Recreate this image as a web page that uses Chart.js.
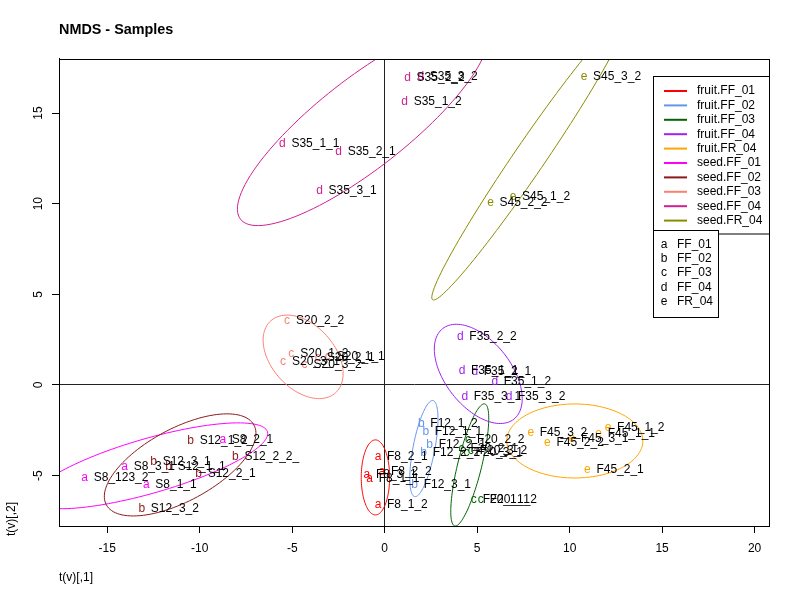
<!DOCTYPE html>
<html>
<head>
<meta charset="utf-8">
<title>NMDS - Samples</title>
<script src="https://cdn.jsdelivr.net/npm/chart.js@4.4.1/dist/chart.umd.min.js"></script>
<style>
  html, body { margin: 0; padding: 0; background: #fff; }
  canvas { display: block; }
</style>
</head>
<body>
<canvas id="grafico" width="800" height="600"></canvas>
<script>
const groups = ['fruit.FF_01', 'fruit.FF_02', 'fruit.FF_03', 'fruit.FF_04', 'fruit.FR_04',
                'seed.FF_01', 'seed.FF_02', 'seed.FF_03', 'seed.FF_04', 'seed.FR_04'];
const groupStage = [0, 1, 2, 3, 4, 0, 1, 2, 3, 4];
const stages = ['FF_01', 'FF_02', 'FF_03', 'FF_04', 'FR_04'];
const stageLetters = ['a', 'b', 'c', 'd', 'e'];

const sampleNames = [
    'F8_2_1', 'F8_3_1', 'F8_2_2', 'F8_1_1', 'F8_1_2',
    'F12_1_2', 'F12_1_1', 'F12_2_1', 'F12_2_2', 'F12_3_1',
    'F20_2_2', 'F20_2_1', 'F20_3_1', 'F20_3_2', 'F20_1_1', 'F20_1_2',
    'F35_2_2', 'F35_1_1', 'F35_2_1', 'F35_1_2', 'F35_3_1', 'F35_3_2',
    'F45_3_2', 'F45_2_2', 'F45_3_1', 'F45_1_1', 'F45_1_2', 'F45_2_1',
    'S8_123_2', 'S8_3_1', 'S8_1_1', 'S8_2_1',
    'S12_1_2', 'S12_2_2_', 'S12_3_1', 'S12_1_1', 'S12_2_1', 'S12_3_2',
    'S20_2_2', 'S20_1_2', 'S20_3_1', 'S20_3_2', 'S20_2_1', 'S20_1_1',
    'S35_1_1', 'S35_2_1', 'S35_3_1', 'S35_1_2', 'S35_2_2', 'S35_3_2',
    'S45_3_2', 'S45_1_2', 'S45_2_2'
];
const sampleGroup = [
    0, 0, 0, 0, 0,
    1, 1, 1, 1, 1,
    2, 2, 2, 2, 2, 2,
    3, 3, 3, 3, 3, 3,
    4, 4, 4, 4, 4, 4,
    5, 5, 5, 5,
    6, 6, 6, 6, 6, 6,
    7, 7, 7, 7, 7, 7,
    8, 8, 8, 8, 8, 8,
    9, 9, 9
];
const sampleX = [
    -0.36, -0.96, -0.15, -0.81, -0.36,
    1.98, 2.22, 2.43, 2.11, 1.62,
    4.51, 4.15, 4.42, 4.65, 4.81, 5.19,
    4.09, 4.18, 4.87, 5.95, 4.33, 6.72,
    7.90, 8.80, 10.13, 11.57, 12.08, 10.96,
    -16.22, -14.06, -12.89, -8.75,
    -10.49, -8.07, -12.49, -11.68, -10.06, -13.13,
    -5.28, -5.05, -5.50, -4.33, -3.62, -3.08,
    -5.53, -2.49, -3.52, 1.08, 1.24, 1.95,
    10.78, 6.94, 5.72
];
const sampleY = [
    -3.95, -4.96, -4.78, -5.18, -6.62,
    -2.11, -2.60, -3.31, -3.76, -5.51,
    -3.03, -3.49, -3.76, -3.64, -6.34, -6.34,
    2.67, 0.78, 0.74, 0.19, -0.64, -0.64,
    -2.63, -3.18, -2.94, -2.70, -2.33, -4.69,
    -5.11, -4.50, -5.51, -3.03,
    -3.09, -3.98, -4.23, -4.50, -4.87, -6.84,
    3.55, 1.72, 1.26, 1.11, 1.50, 1.55,
    13.29, 12.86, 10.71, 15.62, 16.95, 17.00,
    16.99, 10.40, 10.03
];

// ellipse per group: centre and two semi-axis vectors, in data units
const ellipseCX = [-0.50, 2.12, 4.60, 5.06, 10.28, -12.71, -11.06, -4.41, -1.19, 7.80];
const ellipseCY = [-5.10, -3.51, -4.41, 0.61, -3.09, -4.46, -4.41, 1.55, 14.41, 12.48];
const ellipseUX = [0, 0.495, 0.811, 1.925, 3.678, 6.372, 3.992, 1.751, 6.606, 5.207];
const ellipseUY = [2.070, 2.649, 3.366, -2.498, 0, 1.874, 2.199, -1.985, 5.269, 7.781];
const ellipseVX = [0.768, 0.579, 0.630, -1.394, 0, 0.409, 0.931, -1.270, 1.499, 0.688];
const ellipseVY = [0, -0.1125, -0.158, -1.119, 2.042, -1.448, -1.759, -1.167, -1.957, -0.479];

const xTicks = [-15, -10, -5, 0, 5, 10, 15, 20];
const yTicks = [-5, 0, 5, 10, 15];
const xRange = [-17.61, 20.78];
const yRange = [-7.78, 17.98];

const colores = ['#FF0000', '#6495ED', '#006400', '#A020F0', '#FFA500',
                 '#FF00FF', '#8B1A1A', '#FA8072', '#D02090', '#8B8B00'];
const fuente = '"Liberation Sans", Arial, Helvetica, sans-serif';

const ellipsePlugin = {
    id: 'elipses',
    beforeDatasetsDraw(chart) {
        let ctx = chart.ctx;
        let ca = chart.chartArea;
        let sx = chart.scales.x, sy = chart.scales.y;
        ctx.save();
        ctx.beginPath();
        ctx.rect(ca.left, ca.top, ca.right - ca.left, ca.bottom - ca.top);
        ctx.clip();
        groups.forEach((g, gi) => {
            ctx.beginPath();
            for (let k = 0; k <= 120; k++) {
                let t = k / 120 * Math.PI * 2;
                let vx = ellipseCX[gi] + Math.cos(t) * ellipseUX[gi] + Math.sin(t) * ellipseVX[gi];
                let vy = ellipseCY[gi] + Math.cos(t) * ellipseUY[gi] + Math.sin(t) * ellipseVY[gi];
                let px = sx.getPixelForValue(vx), py = sy.getPixelForValue(vy);
                if (k === 0) ctx.moveTo(px, py); else ctx.lineTo(px, py);
            }
            ctx.strokeStyle = colores[gi];
            ctx.lineWidth = 1;
            ctx.stroke();
        });
        ctx.restore();
    }
};

const textPlugin = {
    id: 'letras',
    afterDatasetsDraw(chart) {
        let ctx = chart.ctx;
        let ca = chart.chartArea;
        ctx.save();
        ctx.beginPath();
        ctx.rect(ca.left, ca.top, ca.right - ca.left, ca.bottom - ca.top);
        ctx.clip();
        ctx.font = '12px ' + fuente;
        ctx.textBaseline = 'middle';
        chart.data.datasets.forEach((ds, di) => {
            let meta = chart.getDatasetMeta(di);
            ctx.fillStyle = colores[di];
            ctx.textAlign = 'center';
            meta.data.forEach(el => ctx.fillText(stageLetters[groupStage[di]], el.x, el.y));
        });
        ctx.fillStyle = '#000';
        ctx.textAlign = 'left';
        chart.data.datasets.forEach((ds, di) => {
            let meta = chart.getDatasetMeta(di);
            meta.data.forEach((el, i) => ctx.fillText(ds.data[i].name, el.x + 9, el.y));
        });
        ctx.restore();
    }
};

const boxPlugin = {
    id: 'caja',
    afterDraw(chart) {
        let ctx = chart.ctx;
        let ca = chart.chartArea;
        ctx.save();
        ctx.strokeStyle = '#000';
        ctx.lineWidth = 1;
        ctx.strokeRect(Math.round(ca.left) + 0.5, Math.round(ca.top) + 0.5,
                       Math.round(ca.right - ca.left), Math.round(ca.bottom - ca.top));

        ctx.font = '12px ' + fuente;
        ctx.textBaseline = 'middle';

        // y axis label, starts a little under the plot bottom as in the original
        ctx.save();
        ctx.translate(11.2, ca.bottom + 10);
        ctx.rotate(-Math.PI / 2);
        ctx.fillStyle = '#000';
        ctx.textAlign = 'left';
        ctx.fillText('t(v)[,2]', 0, 0);
        ctx.restore();

        // legend of ellipse colours
        let l1 = { x: 653.5, y: 76.5, w: Math.round(ca.right) - 653, h: 157.5 };
        ctx.fillStyle = '#fff';
        ctx.fillRect(l1.x, l1.y, l1.w, l1.h);
        ctx.strokeRect(l1.x, l1.y, l1.w, l1.h);
        groups.forEach((g, gi) => {
            let yy = 91 + gi * 14.4;
            ctx.beginPath();
            ctx.moveTo(664, yy);
            ctx.lineTo(687, yy);
            ctx.strokeStyle = colores[gi];
            ctx.lineWidth = 2;
            ctx.stroke();
            ctx.fillStyle = '#000';
            ctx.textAlign = 'left';
            ctx.fillText(g, 697, yy);
        });

        // legend of letters
        let l2 = { x: 653.5, y: 230.5, w: 65, h: 87 };
        ctx.lineWidth = 1;
        ctx.strokeStyle = '#000';
        ctx.fillStyle = '#fff';
        ctx.fillRect(l2.x, l2.y, l2.w, l2.h);
        ctx.strokeRect(l2.x, l2.y, l2.w, l2.h);
        ctx.fillStyle = '#000';
        stages.forEach((s, si) => {
            let yy = 244.3 + si * 14.4;
            ctx.textAlign = 'center';
            ctx.fillText(stageLetters[si], 664, yy);
            ctx.textAlign = 'left';
            ctx.fillText(s, 677, yy);
        });
        ctx.restore();
    }
};

const lineaCero = c => (c.tick && c.tick.value === 0) ? '#222' : 'rgba(0,0,0,0)';

const datasets = groups.map((g, gi) => ({
    label: g,
    data: sampleNames
        .map((n, i) => ({ x: sampleX[i], y: sampleY[i], name: n, g: sampleGroup[i] }))
        .filter(p => p.g === gi),
    pointRadius: 0,
    showLine: false
}));

let grafico = new Chart(document.getElementById('grafico').getContext('2d'), {
    type: 'scatter',
    data: { datasets },
    plugins: [ellipsePlugin, textPlugin, boxPlugin],
    options: {
        responsive: false,
        animation: false,
        devicePixelRatio: 1,
        events: [],
        layout: { padding: { left: 0, right: 31, top: 0, bottom: 0 } },
        plugins: {
            legend: { display: false },
            tooltip: { enabled: false },
            title: {
                display: true,
                text: 'NMDS - Samples',
                align: 'start',
                fullSize: false,
                color: '#000',
                font: { family: fuente, size: 14.4, weight: 'bold', lineHeight: 1.2 },
                padding: { top: 21.5, bottom: 20.2 }
            }
        },
        scales: {
            x: {
                type: 'linear',
                min: xRange[0],
                max: xRange[1],
                afterBuildTicks: s => { s.ticks = xTicks.map(v => ({ value: v })); },
                afterFit: s => { s.height = 74; },
                ticks: {
                    autoSkip: false, maxRotation: 0, padding: 8, color: '#000',
                    font: { family: fuente, size: 12 },
                    callback: v => String(v)
                },
                grid: { color: lineaCero, tickColor: '#000', tickLength: 7, lineWidth: 1 },
                border: { display: true, color: '#000' },
                title: {
                    display: true, text: 't(v)[,1]', align: 'start', color: '#000',
                    font: { family: fuente, size: 12, lineHeight: 1.2 },
                    padding: { top: 0, bottom: 14.8 }
                }
            },
            y: {
                type: 'linear',
                min: yRange[0],
                max: yRange[1],
                afterBuildTicks: s => { s.ticks = yTicks.map(v => ({ value: v })); },
                afterFit: s => { s.width = 59; },
                ticks: {
                    autoSkip: false, minRotation: 90, maxRotation: 90, crossAlign: 'center',
                    padding: 7, color: '#000',
                    font: { family: fuente, size: 12 },
                    callback: v => String(v)
                },
                grid: { color: lineaCero, tickColor: '#000', tickLength: 7, lineWidth: 1 },
                border: { display: true, color: '#000' },
                title: { display: false }
            }
        }
    }
});
</script>
</body>
</html>
